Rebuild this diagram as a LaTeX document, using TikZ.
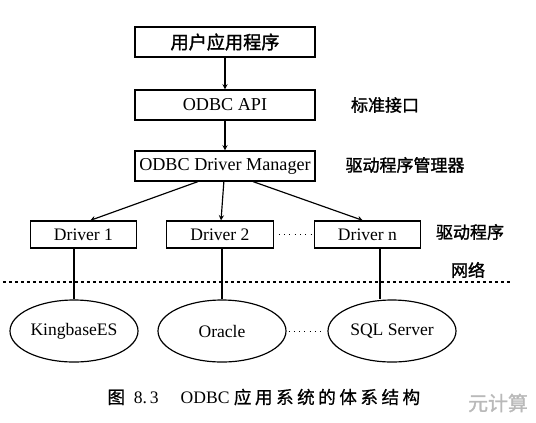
\documentclass[tikz,border=0pt]{standalone}
\usepackage{fontspec}
\setmainfont{Liberation Serif}
\newfontfamily\cjk{Noto Sans CJK SC}
\newfontfamily\cjkbold[FakeBold=1.5]{Noto Sans CJK SC}
\newfontfamily\capcjk[LetterSpace=20, FakeBold=0.8]{Noto Sans CJK SC}
\usetikzlibrary{shapes.geometric}

\begin{document}
\begin{tikzpicture}
    \tikzstyle{arrow} = [line width = 1pt, ->, >= stealth]
    \tikzstyle{link} = [line width = 1pt]
    \tikzstyle{dots} = [thick, dash pattern = on 0.8pt off 3.7pt]
    \tikzstyle{box} = [rectangle, minimum width = 5.4cm, minimum height = 0.9cm, text centered, draw = black, line width = 1pt, font = \fontsize{15.5}{18}\selectfont]
    \tikzstyle{drv} = [rectangle, minimum width = 3.2cm, minimum height = 0.81cm, text centered, draw = black, line width = 1pt, font = \fontsize{15}{18}\selectfont]
    \tikzstyle{db} = [ellipse, minimum width = 3.84cm, minimum height = 1.86cm, inner sep = 0pt, text centered, draw = black, line width = 1pt, font = \fontsize{15}{18}\selectfont]
    \tikzstyle{side} = [font = \cjkbold\fontsize{14.5}{17}\selectfont]
    \useasboundingbox (0,0) rectangle (16.08,-12.66);
    \node[box](B1) at (6.75,-1.26){\cjkbold 用户应用程序};
    \node[box, below of = B1, yshift = -0.89cm](B2){ODBC API};
    \node[box, below of = B2, yshift = -0.83cm](B3){ODBC Driver Manager};
    \node[drv, below of = B3, yshift = -1.055cm, xshift = -0.15cm](D2){Driver 2};
    \node[drv, left of = D2, xshift = -3.095cm](D1){Driver 1};
    \node[drv, right of = D2, xshift = 3.425cm](Dn){Driver n};
    \node[db, below of = D1, yshift = -1.895cm, xshift = -0.285cm](E1){KingbaseES};
    \node[db, below of = D2, yshift = -1.895cm, xshift = 0.06cm](E2){Oracle};
    \node[db, below of = Dn, yshift = -1.895cm, xshift = 0.735cm](E3){SQL Server};
    \node[side, right of = B2, xshift = 3.8cm](L1){标准接口};
    \node[side, right of = B3, xshift = 4.4cm, yshift = 0.03cm](L2){驱动程序管理器};
    \node[side, right of = Dn, xshift = 2.075cm, yshift = 0.075cm](L3){驱动程序};
    \node[side, below of = L3, yshift = -0.14cm, xshift = -0.06cm](L4){网络};
    \coordinate (netL) at (0.09,-8.46);
    \coordinate (netR) at (15.3,-8.46);
    \node[anchor = west, font = \fontsize{15}{18}\selectfont](cap) at (3.1,-11.91){{\capcjk 图}\ \ 8.\,3\quad\ ODBC\ {\capcjk 应用系统的体系结构}};
    \node[text = gray!55, font = \cjkbold\fontsize{17}{20}\selectfont](wm) at (14.94,-12.09){元计算};
    \draw[arrow] (B1)--(B2);
    \draw[arrow] (B2)--(B3);
    \draw[arrow] ([xshift = -0.81cm]B3.south)--([xshift = 0.2cm]D1.north);
    \draw[arrow] (B3)--(D2);
    \draw[arrow] ([xshift = 0.84cm]B3.south)--([xshift = -0.14cm]Dn.north);
    \draw[link] (D1.south -| E1.north)--(E1.north);
    \draw[link] (D2.south -| E2.north)--(E2.north);
    \draw[link] ([xshift = -0.36cm]E3.north |- Dn.south)--([xshift = -0.36cm]E3.north);
    \draw[dots, shorten <= 0.15cm, shorten >= 0.03cm] (D2)--(Dn);
    \draw[dots, shorten <= 0.06cm, shorten >= 0.06cm] (E2)--(E3);
    \draw[dashed, line width = 1.3pt, dash pattern = on 0.09cm off 0.09cm] (netL)--(netR);
\end{tikzpicture}
\end{document}
